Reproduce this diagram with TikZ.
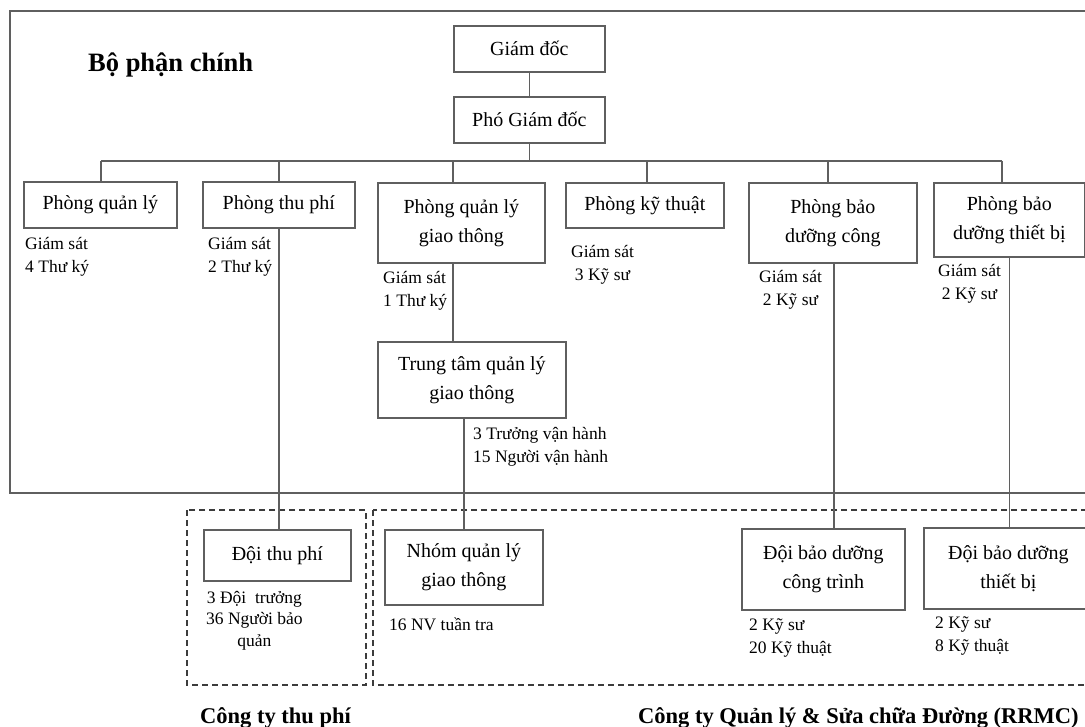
\documentclass[tikz,border=0pt]{standalone}
\usepackage{fontspec}
\setmainfont{Liberation Serif}
\newcommand\orgboxfont{\fontsize{20}{29}\selectfont}
\newcommand\orglblfont{\fontsize{17.5}{23}\selectfont}
\newcommand\orgtightfont{\fontsize{17.5}{21.5}\selectfont}
\newcommand\orgheadfont{\fontsize{26.5}{30}\selectfont\bfseries}
\newcommand\orgfootfont{\fontsize{22.5}{26}\selectfont\bfseries}
\definecolor{linec}{RGB}{95,95,95}
\definecolor{dashc}{RGB}{60,60,60}
\begin{document}
\begin{tikzpicture}[x=1pt,y=-1pt,
  box/.style={draw=linec, line width=1.7pt, inner sep=0pt, align=center,
    font=\orgboxfont, anchor=north west},
  lbl/.style={anchor=base west, inner sep=0pt, font=\orglblfont},
  conn/.style={draw=linec, line width=1.7pt},
  group/.style={draw=dashc, line width=1.6pt, dash pattern=on 6pt off 4pt},
  frame/.style={draw=linec, line width=1.7pt},
  head/.style={anchor=base west, inner sep=0pt, font=\orgheadfont},
  foot/.style={anchor=base west, inner sep=0pt, font=\orgfootfont}]
\useasboundingbox (0,0) rectangle (1085,727);
\clip (0,0) rectangle (1085,727);

% main department frame and the two company groups
\draw[frame] (10,11) rectangle (1100,493);
\draw[group] (187,510) rectangle (366,685);
\draw[group] (373,510) rectangle (1100,685);

\node[head] (title) at (88,72) {Bộ phận chính};

% management
\node[box, minimum width=151pt, minimum height=46pt] (gd) at (453,25) {Giám đốc};
\node[box, minimum width=151pt, minimum height=46pt] (pgd) at (453,96) {Phó Giám đốc};

% departments
\node[box, minimum width=153pt, minimum height=46pt] (pql) at (23,181) {Phòng quản lý};
\node[box, minimum width=152pt, minimum height=46pt] (ptp) at (202,181) {Phòng thu phí};
\node[box, minimum width=167pt, minimum height=80pt] (pqlgt) at (377,182) {Phòng quản lý\\giao thông};
\node[box, minimum width=158pt, minimum height=45pt] (pkt) at (565,182) {Phòng kỹ thuật};
\node[box, minimum width=168pt, minimum height=80pt] (pbdc) at (748,182) {Phòng bảo\\dưỡng công};
\node[box, minimum width=151pt, minimum height=74pt] (pbdtb) at (933,182) {Phòng bảo\\dưỡng thiết bị};

\node[box, minimum width=188pt, minimum height=76pt] (tt) at (377,341) {Trung tâm quản lý\\giao thông};

% teams
\node[box, minimum width=147pt, minimum height=51pt] (dtp) at (203,529) {Đội thu phí};
\node[box, minimum width=158pt, minimum height=75pt] (nhom) at (384,529) {Nhóm quản lý\\giao thông};
\node[box, minimum width=163pt, minimum height=81pt] (dbdct) at (741,528) {Đội bảo dưỡng\\công trình};
\node[box, minimum width=169pt, minimum height=81pt] (dbdtb) at (923,527) {Đội bảo dưỡng\\thiết bị};

% staff notes
\node[lbl] (s1) at (25,250) {\begin{tabular}[t]{@{}l@{}}Giám sát\\4 Thư ký\end{tabular}};
\node[lbl] (s2) at (208,250) {\begin{tabular}[t]{@{}l@{}}Giám sát\\2 Thư ký\end{tabular}};
\node[lbl] (s3) at (383,284) {\begin{tabular}[t]{@{}l@{}}Giám sát\\1 Thư ký\end{tabular}};
\node[lbl] (s4) at (571,258) {\begin{tabular}[t]{@{}c@{}}Giám sát\\3 Kỹ sư\end{tabular}};
\node[lbl] (s5) at (759,283) {\begin{tabular}[t]{@{}c@{}}Giám sát\\2 Kỹ sư\end{tabular}};
\node[lbl] (s6) at (938,277) {\begin{tabular}[t]{@{}c@{}}Giám sát\\2 Kỹ sư\end{tabular}};
\node[lbl] (s7) at (473,439) {\begin{tabular}[t]{@{}l@{}}3 Trưởng vận hành\\15 Người vận hành\end{tabular}};
\node[lbl, font=\orgtightfont] (s8) at (206,603) {\begin{tabular}[t]{@{}c@{}}3 Đội\ \ trưởng\\36 Người bảo\\quản\end{tabular}};
\node[lbl] (s9) at (389,630) {16 NV tuần tra};
\node[lbl] (s10) at (749,630) {\begin{tabular}[t]{@{}l@{}}2 Kỹ sư\\20 Kỹ thuật\end{tabular}};
\node[lbl] (s11) at (935,628) {\begin{tabular}[t]{@{}l@{}}2 Kỹ sư\\8 Kỹ thuật\end{tabular}};

% group names
\node[foot] (c1) at (200,723) {Công ty thu phí};
\node[foot] (c2) at (638,723) {Công ty Quản lý \& Sửa chữa Đường (RRMC)};

% connectors
\coordinate (t1) at (101,161);
\coordinate (t2) at (279,161);
\coordinate (t3) at (453,161);
\coordinate (t4) at (647,161);
\coordinate (t5) at (828,161);
\coordinate (t6) at (1002,161);

\draw[conn] (gd) -- (pgd);
\draw[conn] (pgd.south) -- (pgd.south |- t1);
\draw[conn] (t1) -- (t6);
\draw[conn] (t1) -- (t1 |- pql.north);
\draw[conn] (t2) -- (t2 |- ptp.north);
\draw[conn] (t3) -- (t3 |- pqlgt.north);
\draw[conn] (t4) -- (t4 |- pkt.north);
\draw[conn] (t5) -- (t5 |- pbdc.north);
\draw[conn] (t6) -- (t6 |- pbdtb.north);

\draw[conn] (t2 |- ptp.south) -- (t2 |- dtp.north);
\draw[conn] (t3 |- pqlgt.south) -- (t3 |- tt.north);
\draw[conn] (tt.south -| nhom) -- (nhom.north);
\draw[conn] ([xshift=1pt]pbdc.south) -- ([xshift=1pt]pbdc.south |- dbdct.north);
\draw[conn] (pbdtb.south) -- (pbdtb.south |- dbdtb.north);
\end{tikzpicture}
\end{document}
